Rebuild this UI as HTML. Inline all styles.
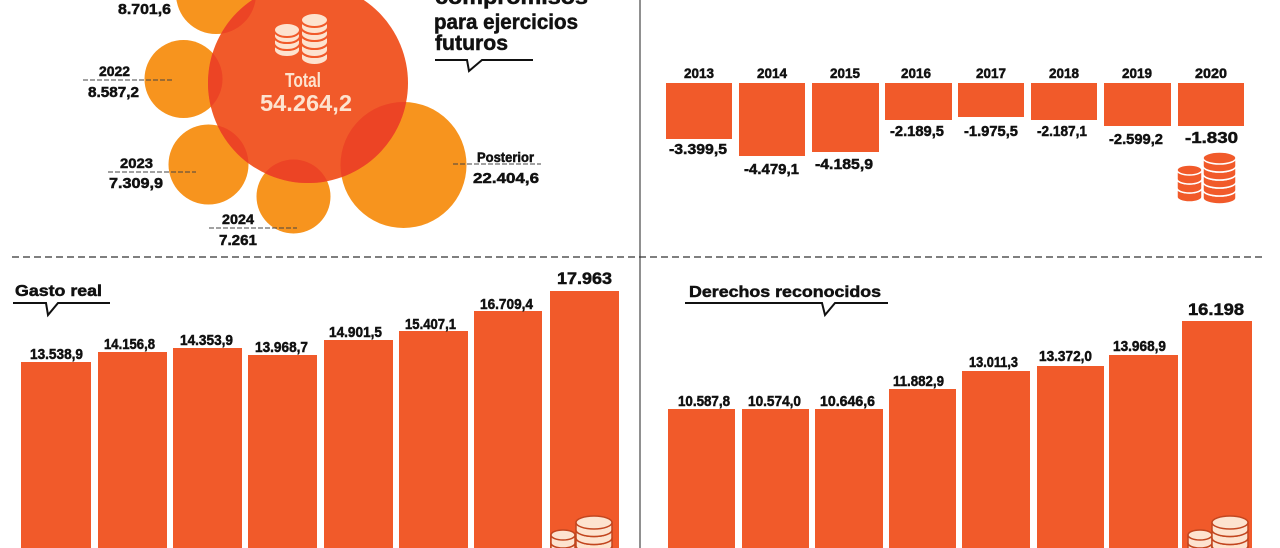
<!DOCTYPE html>
<html><head><meta charset="utf-8"><style>
html,body{margin:0;padding:0;background:#fff;}
svg{display:block;}
text{font-family:"Liberation Sans",sans-serif;font-weight:700;}
.k{stroke:#111;stroke-width:0.5;}
</style></head><body>
<svg width="1280" height="548" viewBox="0 0 1280 548" xmlns="http://www.w3.org/2000/svg">
<rect width="1280" height="548" fill="#fff"/>
<defs>
<clipPath id="big"><circle cx="308" cy="83" r="100"/></clipPath>
</defs>

<!-- ===== Top-left bubbles ===== -->
<g fill="#f7941e">
<circle cx="216" cy="-6" r="40"/>
<circle cx="183.5" cy="79" r="39"/>
<circle cx="208.5" cy="164.5" r="40"/>
<circle cx="293.5" cy="196.5" r="37"/>
<circle cx="403.5" cy="165" r="63"/>
</g>
<circle cx="308" cy="83" r="100" fill="#f15a2a"/>
<g fill="#ec4425" clip-path="url(#big)">
<circle cx="216" cy="-6" r="40"/>
<circle cx="183.5" cy="79" r="39"/>
<circle cx="208.5" cy="164.5" r="40"/>
<circle cx="293.5" cy="196.5" r="37"/>
<circle cx="403.5" cy="165" r="63"/>
</g>

<!-- coins in big circle -->
<g fill="#fde3cf" stroke="#f15a2a" stroke-width="2">
<path d="M274,43 V50 A13,7 0 0 0 300,50 V43 Z"/><ellipse cx="287" cy="43" rx="13" ry="7"/>
<path d="M274,36 V43 A13,7 0 0 0 300,43 V36 Z"/><ellipse cx="287" cy="36" rx="13" ry="7"/>
<path d="M274,30 V36 A13,7 0 0 0 300,36 V30 Z"/><ellipse cx="287" cy="30" rx="13" ry="7"/>
<path d="M301,50 V58 A13.5,7 0 0 0 328,58 V50 Z"/><ellipse cx="314.5" cy="50" rx="13.5" ry="7"/>
<path d="M301,42 V50 A13.5,7 0 0 0 328,50 V42 Z"/><ellipse cx="314.5" cy="42" rx="13.5" ry="7"/>
<path d="M301,34 V42 A13.5,7 0 0 0 328,42 V34 Z"/><ellipse cx="314.5" cy="34" rx="13.5" ry="7"/>
<path d="M301,27 V34 A13.5,7 0 0 0 328,34 V27 Z"/><ellipse cx="314.5" cy="27" rx="13.5" ry="7"/>
<path d="M301,20 V27 A13.5,7 0 0 0 328,27 V20 Z"/><ellipse cx="314.5" cy="20" rx="13.5" ry="7"/>
</g>
<text x="285" y="87" font-size="20" fill="#fde3cf" textLength="36" lengthAdjust="spacingAndGlyphs">Total</text>
<text x="260" y="111" font-size="23" fill="#fde3cf" textLength="92" lengthAdjust="spacingAndGlyphs">54.264,2</text>

<!-- bubble labels -->
<g fill="#111" font-size="15" class="k">
<text x="118" y="14" textLength="53" lengthAdjust="spacingAndGlyphs">8.701,6</text>
<text x="99" y="76" font-size="14" textLength="31" lengthAdjust="spacingAndGlyphs">2022</text>
<text x="88" y="97" textLength="51" lengthAdjust="spacingAndGlyphs">8.587,2</text>
<text x="120" y="168" font-size="14" textLength="33" lengthAdjust="spacingAndGlyphs">2023</text>
<text x="109" y="188" textLength="54" lengthAdjust="spacingAndGlyphs">7.309,9</text>
<text x="222" y="224" font-size="14" textLength="32" lengthAdjust="spacingAndGlyphs">2024</text>
<text x="219" y="245" textLength="38" lengthAdjust="spacingAndGlyphs">7.261</text>
<text x="477" y="162" font-size="14" textLength="57" lengthAdjust="spacingAndGlyphs">Posterior</text>
<text x="473" y="183" textLength="66" lengthAdjust="spacingAndGlyphs">22.404,6</text>
</g>
<g stroke="#444" stroke-width="1" stroke-dasharray="5 2">
<line x1="83" y1="80" x2="173" y2="80"/>
<line x1="108" y1="172" x2="196" y2="172"/>
<line x1="209" y1="228" x2="297" y2="228"/>
<line x1="453" y1="164" x2="541" y2="164"/>
</g>

<!-- title top-left -->
<g fill="#111" font-size="21" class="k">
<text x="435" y="4" textLength="153" lengthAdjust="spacingAndGlyphs">compromisos</text>
<text x="434" y="29" textLength="144" lengthAdjust="spacingAndGlyphs">para ejercicios</text>
<text x="435" y="50" textLength="73" lengthAdjust="spacingAndGlyphs">futuros</text>
</g>
<polyline points="435,60 467,60 469,71 482,60 533,60" fill="none" stroke="#111" stroke-width="2"/>

<!-- ===== Dividers ===== -->
<line x1="640" y1="0" x2="640" y2="548" stroke="#555" stroke-width="1.3"/>
<line x1="12" y1="257" x2="1262" y2="257" stroke="#333" stroke-width="1.3" stroke-dasharray="7 4"/>

<!-- ===== Top-right bars ===== -->
<g fill="#f15a2a">
<rect x="666" y="83" width="66" height="56"/>
<rect x="739" y="83" width="66" height="73"/>
<rect x="812" y="83" width="67" height="69"/>
<rect x="885" y="83" width="67" height="37"/>
<rect x="958" y="83" width="66" height="34"/>
<rect x="1031" y="83" width="66" height="37"/>
<rect x="1104" y="83" width="67" height="43"/>
<rect x="1178" y="83" width="66" height="43"/>
</g>
<g fill="#111" font-size="14" class="k">
<text x="684" y="78" textLength="30" lengthAdjust="spacingAndGlyphs">2013</text>
<text x="757" y="78" textLength="30" lengthAdjust="spacingAndGlyphs">2014</text>
<text x="830" y="78" textLength="30" lengthAdjust="spacingAndGlyphs">2015</text>
<text x="901" y="78" textLength="30" lengthAdjust="spacingAndGlyphs">2016</text>
<text x="976" y="78" textLength="30" lengthAdjust="spacingAndGlyphs">2017</text>
<text x="1049" y="78" textLength="30" lengthAdjust="spacingAndGlyphs">2018</text>
<text x="1122" y="78" textLength="30" lengthAdjust="spacingAndGlyphs">2019</text>
<text x="1195" y="78" textLength="32" lengthAdjust="spacingAndGlyphs">2020</text>
</g>
<g fill="#111" font-size="15" class="k">
<text x="669" y="154" textLength="58" lengthAdjust="spacingAndGlyphs">-3.399,5</text>
<text x="744" y="174" textLength="55" lengthAdjust="spacingAndGlyphs">-4.479,1</text>
<text x="815" y="169" textLength="58" lengthAdjust="spacingAndGlyphs">-4.185,9</text>
<text x="890" y="136" textLength="54" lengthAdjust="spacingAndGlyphs">-2.189,5</text>
<text x="964" y="136" textLength="54" lengthAdjust="spacingAndGlyphs">-1.975,5</text>
<text x="1037" y="136" textLength="50" lengthAdjust="spacingAndGlyphs">-2.187,1</text>
<text x="1109" y="144" textLength="54" lengthAdjust="spacingAndGlyphs">-2.599,2</text>
<text x="1185" y="143" font-size="16" textLength="53" lengthAdjust="spacingAndGlyphs">-1.830</text>
</g>
<!-- orange coins top-right -->
<g fill="#f15a2a" stroke="#fff" stroke-width="1.5">
<path d="M1177,188 V197 A12.5,5 0 0 0 1202,197 V188 Z"/><ellipse cx="1189.5" cy="188" rx="12.5" ry="5"/>
<path d="M1177,179 V188 A12.5,5 0 0 0 1202,188 V179 Z"/><ellipse cx="1189.5" cy="179" rx="12.5" ry="5"/>
<path d="M1177,170 V179 A12.5,5 0 0 0 1202,179 V170 Z"/><ellipse cx="1189.5" cy="170" rx="12.5" ry="5"/>
<path d="M1203,190 V198 A16.5,6 0 0 0 1236,198 V190 Z"/><ellipse cx="1219.5" cy="190" rx="16.5" ry="6"/>
<path d="M1203,182 V190 A16.5,6 0 0 0 1236,190 V182 Z"/><ellipse cx="1219.5" cy="182" rx="16.5" ry="6"/>
<path d="M1203,174 V182 A16.5,6 0 0 0 1236,182 V174 Z"/><ellipse cx="1219.5" cy="174" rx="16.5" ry="6"/>
<path d="M1203,166 V174 A16.5,6 0 0 0 1236,174 V166 Z"/><ellipse cx="1219.5" cy="166" rx="16.5" ry="6"/>
<path d="M1203,158 V166 A16.5,6 0 0 0 1236,166 V158 Z"/><ellipse cx="1219.5" cy="158" rx="16.5" ry="6"/>
</g>

<!-- ===== Bottom-left: Gasto real ===== -->
<text x="15" y="296" font-size="16" fill="#111" class="k" textLength="87" lengthAdjust="spacingAndGlyphs">Gasto real</text>
<polyline points="13,303 46,303 48,315 58,303 110,303" fill="none" stroke="#111" stroke-width="2"/>
<g fill="#f15a2a">
<rect x="21" y="362" width="70" height="186"/>
<rect x="98" y="352" width="69" height="196"/>
<rect x="173" y="348" width="69" height="200"/>
<rect x="248" y="355" width="69" height="193"/>
<rect x="324" y="340" width="69" height="208"/>
<rect x="399" y="331" width="69" height="217"/>
<rect x="474" y="311" width="68" height="237"/>
<rect x="550" y="291" width="69" height="257"/>
</g>
<g fill="#111" font-size="15" class="k">
<text x="30" y="359" textLength="53" lengthAdjust="spacingAndGlyphs">13.538,9</text>
<text x="104" y="349" textLength="51" lengthAdjust="spacingAndGlyphs">14.156,8</text>
<text x="180" y="345" textLength="53" lengthAdjust="spacingAndGlyphs">14.353,9</text>
<text x="255" y="352" textLength="53" lengthAdjust="spacingAndGlyphs">13.968,7</text>
<text x="329" y="337" textLength="53" lengthAdjust="spacingAndGlyphs">14.901,5</text>
<text x="405" y="329" textLength="51" lengthAdjust="spacingAndGlyphs">15.407,1</text>
<text x="480" y="309" textLength="53" lengthAdjust="spacingAndGlyphs">16.709,4</text>
<text x="557" y="284" font-size="17" textLength="55" lengthAdjust="spacingAndGlyphs">17.963</text>
</g>
<g fill="#fde3cf" stroke="#c2461f" stroke-width="1.5">
<path d="M551,543 V551 A12,5 0 0 0 575,551 V543 Z"/><ellipse cx="563" cy="543" rx="12" ry="5"/>
<path d="M551,535 V543 A12,5 0 0 0 575,543 V535 Z"/><ellipse cx="563" cy="535" rx="12" ry="5"/>
<path d="M576,546 V554 A18,6.5 0 0 0 612,554 V546 Z"/><ellipse cx="594" cy="546" rx="18" ry="6.5"/>
<path d="M576,538 V546 A18,6.5 0 0 0 612,546 V538 Z"/><ellipse cx="594" cy="538" rx="18" ry="6.5"/>
<path d="M576,530 V538 A18,6.5 0 0 0 612,538 V530 Z"/><ellipse cx="594" cy="530" rx="18" ry="6.5"/>
<path d="M576,522.5 V530 A18,6.5 0 0 0 612,530 V522.5 Z"/><ellipse cx="594" cy="522.5" rx="18" ry="6.5"/>
</g>

<!-- ===== Bottom-right: Derechos reconocidos ===== -->
<text x="689" y="297" font-size="16" fill="#111" class="k" textLength="192" lengthAdjust="spacingAndGlyphs">Derechos reconocidos</text>
<polyline points="685,303 822,303 825,315 835,303 888,303" fill="none" stroke="#111" stroke-width="2"/>
<g fill="#f15a2a">
<rect x="668" y="409" width="67" height="139"/>
<rect x="742" y="409" width="67" height="139"/>
<rect x="815" y="409" width="68" height="139"/>
<rect x="889" y="389" width="67" height="159"/>
<rect x="962" y="371" width="68" height="177"/>
<rect x="1037" y="366" width="67" height="182"/>
<rect x="1109" y="355" width="69" height="193"/>
<rect x="1182" y="321" width="70" height="227"/>
</g>
<g fill="#111" font-size="15" class="k">
<text x="678" y="406" textLength="52" lengthAdjust="spacingAndGlyphs">10.587,8</text>
<text x="748" y="406" textLength="53" lengthAdjust="spacingAndGlyphs">10.574,0</text>
<text x="820" y="406" textLength="55" lengthAdjust="spacingAndGlyphs">10.646,6</text>
<text x="893" y="386" textLength="51" lengthAdjust="spacingAndGlyphs">11.882,9</text>
<text x="969" y="367" textLength="49" lengthAdjust="spacingAndGlyphs">13.011,3</text>
<text x="1039" y="361" textLength="53" lengthAdjust="spacingAndGlyphs">13.372,0</text>
<text x="1113" y="351" textLength="53" lengthAdjust="spacingAndGlyphs">13.968,9</text>
<text x="1188" y="315" font-size="17" textLength="56" lengthAdjust="spacingAndGlyphs">16.198</text>
</g>
<g fill="#fde3cf" stroke="#c2461f" stroke-width="1.5">
<path d="M1188,543 V551 A12,5 0 0 0 1212,551 V543 Z"/><ellipse cx="1200" cy="543" rx="12" ry="5"/>
<path d="M1188,535 V543 A12,5 0 0 0 1212,543 V535 Z"/><ellipse cx="1200" cy="535" rx="12" ry="5"/>
<path d="M1212,546 V554 A18,6.5 0 0 0 1248,554 V546 Z"/><ellipse cx="1230" cy="546" rx="18" ry="6.5"/>
<path d="M1212,538 V546 A18,6.5 0 0 0 1248,546 V538 Z"/><ellipse cx="1230" cy="538" rx="18" ry="6.5"/>
<path d="M1212,530 V538 A18,6.5 0 0 0 1248,538 V530 Z"/><ellipse cx="1230" cy="530" rx="18" ry="6.5"/>
<path d="M1212,522.5 V530 A18,6.5 0 0 0 1248,530 V522.5 Z"/><ellipse cx="1230" cy="522.5" rx="18" ry="6.5"/>
</g>
</svg>
</body></html>
